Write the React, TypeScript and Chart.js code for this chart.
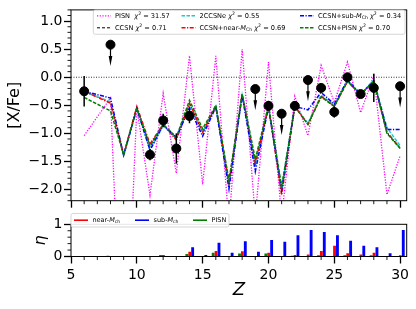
import React, { useEffect, useRef } from 'react';
import { Chart, registerables } from 'chart.js';
Chart.register(...registerables);

// ---------- data ----------
const zModel = [6, 8, 9, 10, 11, 12, 13, 14, 15, 16, 17, 18, 19, 20, 21, 22, 23, 24, 25, 26, 27, 28, 29, 30];
const pisnModel = [-1.04, -0.37, -6.0, -0.55, -2.10, -0.29, -1.71, 0.38, -1.91, 0.38, -2.6, 0.50, -2.5, 0.27, -2.5, -0.34, -1.04, 0.21, -0.45, 0.27, -0.63, 0.03, -2.09, -1.40];
const ccsnModel = [-0.25, -0.45, -1.38, -0.54, -1.24, -0.85, -1.10, -0.47, -0.98, -0.52, -1.88, -0.31, -1.53, -0.52, -2.05, -0.52, -0.84, -0.34, -0.52, -0.07, -0.31, -0.06, -0.99, -1.26];
const twoCcsneModel = [-0.25, -0.44, -1.40, -0.55, -1.30, -0.86, -1.08, -0.50, -0.98, -0.52, -1.92, -0.32, -1.58, -0.52, -2.03, -0.52, -0.82, -0.32, -0.50, -0.06, -0.30, -0.05, -0.90, -1.22];
const nearMchModel = [-0.25, -0.46, -1.38, -0.52, -1.19, -0.84, -1.12, -0.46, -0.98, -0.52, -1.88, -0.31, -1.54, -0.52, -2.10, -0.52, -0.84, -0.34, -0.52, -0.08, -0.31, -0.06, -0.98, -1.26];
const subMchModel = [-0.25, -0.37, -1.39, -0.56, -1.30, -0.85, -1.07, -0.55, -1.05, -0.53, -1.99, -0.32, -1.68, -0.53, -2.00, -0.52, -0.58, -0.27, -0.48, -0.05, -0.30, -0.08, -0.93, -0.93];
const ccsnPisnModel = [-0.36, -0.60, -1.38, -0.55, -1.22, -0.84, -1.07, -0.41, -0.92, -0.50, -1.84, -0.30, -1.46, -0.50, -1.95, -0.52, -0.84, -0.35, -0.52, -0.07, -0.31, -0.07, -1.00, -1.27];

const obsZ = [6, 8, 11, 12, 13, 14, 19, 20, 21, 22, 23, 24, 25, 26, 27, 28, 30];
const obsVal = [-0.25, 0.58, -1.38, -0.77, -1.27, -0.69, -0.21, -0.51, -0.65, -0.51, -0.05, -0.19, -0.62, 0.0, -0.30, -0.19, -0.16];
const obsErr = [0.27, 0, 0.10, 0.12, 0.27, 0.13, 0, 0.09, 0, 0.08, 0, 0.08, 0.10, 0.07, 0.06, 0.25, 0];
const obsUpper = [false, true, false, false, false, false, true, false, true, false, true, false, false, false, false, false, true];
const arrowLen = 0.38;

const etaNearZ = [12, 14, 16, 18, 20, 22, 23, 24, 25, 26, 27, 28, 30];
const etaNear = [0.04, 0.14, 0.16, 0.15, 0.11, 0.04, 0.05, 0.16, 0.32, 0.09, 0.05, 0.11, 0.03];
const etaSubZ = [14, 15, 16, 17, 18, 19, 20, 21, 22, 23, 24, 25, 26, 27, 28, 29, 30];
const etaSub = [0.28, 0.04, 0.42, 0.11, 0.46, 0.14, 0.50, 0.45, 0.65, 0.81, 0.75, 0.65, 0.48, 0.32, 0.28, 0.09, 0.81];
const etaPisnZ = [8, 12, 14, 16, 18, 20, 22, 24, 26, 28];
const etaPisn = [0.01, 0.04, 0.07, 0.11, 0.08, 0.08, 0.01, 0.03, 0.03, 0.03];

const xTicks = [5, 10, 15, 20, 25, 30];
const yTicksMain = [-2, -1.5, -1, -0.5, 0, 0.5, 1];
const yTicksEta = [0, 1];

const FONT = '"DejaVu Sans"';

type Part = { t: string; it?: boolean; s?: number; dy?: number };
const chi = (v: string): Part[] => [{ t: ' ' }, { t: 'χ', it: true }, { t: '2', s: 0.7, dy: -2.5 }, { t: ' = ' + v }];
const mch = (sub: string): Part[] => [{ t: 'M', it: true }, { t: sub, s: 0.7, dy: 1.8 }];

const mainLegend: { parts: Part[]; color: string; dash: number[]; width: number; col: number; row: number }[] = [
  { parts: [{ t: 'PISN ' }, ...chi('31.57')], color: '#ff00ff', dash: [1.2, 1.5], width: 1.3, col: 0, row: 0 },
  { parts: [{ t: 'CCSN' }, ...chi('0.71')], color: '#000000', dash: [3, 2], width: 1, col: 0, row: 1 },
  { parts: [{ t: '2CCSNe' }, ...chi('0.55')], color: '#20c8d0', dash: [3.5, 1.5], width: 1.5, col: 1, row: 0 },
  { parts: [{ t: 'CCSN+near-' }, ...mch('Ch'), ...chi('0.69')], color: '#ff0000', dash: [4, 1.5, 1.2, 1.5], width: 1.5, col: 1, row: 1 },
  { parts: [{ t: 'CCSN+sub-' }, ...mch('Ch'), ...chi('0.34')], color: '#0000ff', dash: [4, 1.5, 1.2, 1.5], width: 1.5, col: 2, row: 0 },
  { parts: [{ t: 'CCSN+PISN' }, ...chi('0.70')], color: '#008000', dash: [3.5, 1.5], width: 1.5, col: 2, row: 1 },
];
const etaLegend: { parts: Part[]; color: string }[] = [
  { parts: [{ t: 'near-' }, ...mch('ch')], color: '#ff0000' },
  { parts: [{ t: 'sub-' }, ...mch('ch')], color: '#0000ff' },
  { parts: [{ t: 'PISN' }], color: '#008000' },
];

function drawParts(ctx: CanvasRenderingContext2D, x: number, y: number, parts: Part[], base: number) {
  let cx = x;
  for (const p of parts) {
    const size = base * (p.s ?? 1);
    ctx.font = `${p.it ? 'italic ' : ''}${size}px ${FONT}`;
    ctx.fillText(p.t, cx, y + (p.dy ?? 0));
    cx += ctx.measureText(p.t).width;
  }
}

const fmt = (v: number) => (v < 0 ? '\u2212' : '') + Math.abs(v).toFixed(1);

function range(a: number, b: number, step: number) {
  const out: number[] = [];
  for (let v = a; v <= b + 1e-9; v += step) out.push(Math.round(v * 1000) / 1000);
  return out;
}

const framePlugin = {
  id: 'frame',
  afterDraw(chart: any, _args: any, opts: any) {
    const { ctx, chartArea: a, scales } = chart;
    ctx.save();
    ctx.strokeStyle = '#000';
    ctx.lineWidth = 1;
    ctx.strokeRect(a.left, a.top, a.right - a.left, a.bottom - a.top);
    ctx.lineWidth = 0.9;
    ctx.beginPath();
    for (const v of opts.minorX || []) {
      const px = scales.x.getPixelForValue(v);
      ctx.moveTo(px, a.bottom);
      ctx.lineTo(px, a.bottom + 3.5);
    }
    for (const v of opts.minorY || []) {
      const py = scales.y.getPixelForValue(v);
      ctx.moveTo(a.left, py);
      ctx.lineTo(a.left - 3.5, py);
    }
    ctx.stroke();
    ctx.restore();
  },
};

const errPlugin = {
  id: 'errbars',
  beforeDatasetDraw(chart: any, args: any) {
    if (args.index !== 0) return;
    const { ctx, scales } = chart;
    const sx = scales.x, sy = scales.y;
    ctx.save();
    ctx.strokeStyle = '#000';
    ctx.fillStyle = '#000';
    obsZ.forEach((z, i) => {
      const px = sx.getPixelForValue(z);
      if (obsUpper[i]) {
        const y0 = sy.getPixelForValue(obsVal[i]);
        const y1 = sy.getPixelForValue(obsVal[i] - arrowLen);
        ctx.lineWidth = 1.2;
        ctx.beginPath();
        ctx.moveTo(px, y0);
        ctx.lineTo(px, y1 - 6);
        ctx.stroke();
        ctx.beginPath();
        ctx.moveTo(px - 1.8, y1 - 10);
        ctx.lineTo(px + 1.8, y1 - 10);
        ctx.lineTo(px, y1);
        ctx.closePath();
        ctx.fill();
      } else if (obsErr[i] > 0) {
        ctx.lineWidth = 1.5;
        ctx.beginPath();
        ctx.moveTo(px, sy.getPixelForValue(obsVal[i] + obsErr[i]));
        ctx.lineTo(px, sy.getPixelForValue(obsVal[i] - obsErr[i]));
        ctx.stroke();
      }
    });
    ctx.restore();
  },
};

const mainLegendPlugin = {
  id: 'mainLegend',
  afterDraw(chart: any) {
    const ctx = chart.ctx as CanvasRenderingContext2D;
    const box = { x: 93.3, y: 10, w: 311.7, h: 24.3 };
    const colSample = [97, 181.5, 300];
    const rowY = [15.8, 27.8];
    ctx.save();
    ctx.fillStyle = 'rgba(255,255,255,0.85)';
    ctx.strokeStyle = '#cccccc';
    ctx.lineWidth = 0.8;
    ctx.beginPath();
    (ctx as any).roundRect(box.x, box.y, box.w, box.h, 2);
    ctx.fill();
    ctx.stroke();
    for (const it of mainLegend) {
      const x0 = colSample[it.col];
      const y = rowY[it.row];
      ctx.strokeStyle = it.color;
      ctx.lineWidth = it.width;
      ctx.setLineDash(it.dash);
      ctx.beginPath();
      ctx.moveTo(x0, y);
      ctx.lineTo(x0 + 14, y);
      ctx.stroke();
      ctx.setLineDash([]);
      ctx.fillStyle = '#000';
      ctx.textBaseline = 'middle';
      drawParts(ctx, x0 + 18, y, it.parts, 6.6);
    }
    ctx.restore();
  },
};

const etaLegendPlugin = {
  id: 'etaLegend',
  afterDraw(chart: any) {
    const ctx = chart.ctx as CanvasRenderingContext2D;
    const box = { x: 71, y: 213.5, w: 158, h: 13.5 };
    const samples = [74, 135, 193];
    const y = 220.2;
    ctx.save();
    ctx.fillStyle = 'rgba(255,255,255,0.9)';
    ctx.strokeStyle = '#cccccc';
    ctx.lineWidth = 0.8;
    ctx.beginPath();
    (ctx as any).roundRect(box.x, box.y, box.w, box.h, 2);
    ctx.fill();
    ctx.stroke();
    etaLegend.forEach((it, i) => {
      const x0 = samples[i];
      ctx.strokeStyle = it.color;
      ctx.lineWidth = 1.6;
      ctx.beginPath();
      ctx.moveTo(x0, y);
      ctx.lineTo(x0 + 14, y);
      ctx.stroke();
      ctx.fillStyle = '#000';
      ctx.textBaseline = 'middle';
      drawParts(ctx, x0 + 18.5, y, it.parts, 6.5);
    });
    ctx.restore();
  },
};

const toXY = (xs: number[], ys: number[], dx = 0) => xs.map((x, i) => ({ x: x + dx, y: ys[i] }));

export default function App() {
  const mainRef = useRef<HTMLCanvasElement>(null);
  const etaRef = useRef<HTMLCanvasElement>(null);

  useEffect(() => {
    const tickGrid = { drawOnChartArea: false, tickLength: 7, tickWidth: 1.3, tickColor: '#000' };
    const lineDs = (label: string, ys: number[], color: string, dash: number[], width: number) => ({
      type: 'line' as const,
      label,
      data: toXY(zModel, ys),
      borderColor: color,
      borderDash: dash,
      borderWidth: width,
      pointRadius: 0,
      fill: false,
      tension: 0,
    });
    const main = new Chart(mainRef.current!, {
      type: 'line',
      data: {
        datasets: [
          {
            type: 'scatter' as any,
            label: 'obs',
            data: toXY(obsZ, obsVal),
            backgroundColor: '#000',
            borderColor: '#000',
            pointRadius: 4.5,
            showLine: false,
          } as any,
          lineDs('CCSN+PISN', ccsnPisnModel, '#008000', [3.5, 1.5], 1.5),
          lineDs('CCSN+sub-MCh', subMchModel, '#0000ff', [4, 1.5, 1.2, 1.5], 1.5),
          lineDs('CCSN+near-MCh', nearMchModel, '#ff0000', [4, 1.5, 1.2, 1.5], 1.5),
          lineDs('2CCSNe', twoCcsneModel, '#20c8d0', [3.5, 1.5], 1.5),
          lineDs('CCSN', ccsnModel, '#000000', [3, 2], 1),
          lineDs('PISN', pisnModel, '#ff00ff', [1.2, 1.5], 1.3),
          {
            type: 'line' as const,
            label: 'zero',
            data: [{ x: 5, y: 0 }, { x: 30.5, y: 0 }],
            borderColor: '#000',
            borderDash: [1, 1.5],
            borderWidth: 0.8,
            pointRadius: 0,
          },
        ],
      },
      options: {
        animation: false,
        responsive: false,
        layout: { padding: { left: 0, top: 6, right: 9.3, bottom: 0 } },
        plugins: {
          legend: { display: false },
          tooltip: { enabled: false },
          frame: { minorX: range(5, 30, 1).filter(v => v % 5 !== 0), minorY: range(-2.2, 1.2, 0.1).filter(v => Math.abs(v * 2 - Math.round(v * 2)) > 1e-6) },
        } as any,
        scales: {
          x: {
            type: 'linear',
            min: 5,
            max: 30.5,
            afterBuildTicks: (s: any) => { s.ticks = xTicks.map(v => ({ value: v })); },
            ticks: { display: false, autoSkip: false },
            grid: tickGrid,
            border: { display: false },
            afterFit: (s: any) => { s.height = 309 - 200.7; },
          },
          y: {
            type: 'linear',
            min: -2.2,
            max: 1.2,
            afterBuildTicks: (s: any) => { s.ticks = yTicksMain.map(v => ({ value: v })); },
            ticks: { autoSkip: false, color: '#000', padding: 1.5, font: { family: FONT, size: 14 }, callback: (v: any) => fmt(Number(v)) },
            grid: tickGrid,
            border: { display: false },
            title: { display: true, text: '[X/Fe]', color: '#000', font: { family: FONT, size: 16 }, padding: { top: 5, bottom: 0 } },
            afterFit: (s: any) => { s.width = 71; },
          },
        },
      },
      plugins: [errPlugin, framePlugin, mainLegendPlugin],
    });

    const barDs = (label: string, xs: number[], ys: number[], dx: number, color: string) => ({
      type: 'bar' as const,
      label,
      data: toXY(xs, ys, dx),
      backgroundColor: color,
      borderWidth: 0,
      barThickness: 2.2,
      grouped: false,
    });
    const eta = new Chart(etaRef.current!, {
      type: 'bar',
      data: {
        datasets: [
          barDs('near-Mch', etaNearZ, etaNear, 0.02, '#ff0000'),
          barDs('sub-Mch', etaSubZ, etaSub, 0.24, '#0000ff'),
          barDs('PISN', etaPisnZ, etaPisn, -0.2, '#008000'),
        ] as any,
      },
      options: {
        animation: false,
        responsive: false,
        layout: { padding: { left: 0, top: 224.3, right: 9.3, bottom: 0 } },
        plugins: {
          legend: { display: false },
          tooltip: { enabled: false },
          frame: { minorX: range(5, 30, 1).filter(v => v % 5 !== 0), minorY: [0.2, 0.4, 0.6, 0.8] },
        } as any,
        scales: {
          x: {
            type: 'linear',
            min: 5,
            max: 30.5,
            offset: false,
            afterBuildTicks: (s: any) => { s.ticks = xTicks.map(v => ({ value: v })); },
            ticks: { autoSkip: false, maxRotation: 0, color: '#000', padding: 3, font: { family: FONT, size: 14 }, callback: (v: any) => String(v) },
            grid: { ...tickGrid, offset: false },
            border: { display: false },
            title: { display: true, text: 'Z', color: '#000', font: { family: FONT, size: 18, style: 'italic' }, padding: { top: 0, bottom: 8 } },
            afterFit: (s: any) => { s.height = 309 - 256.5; },
          },
          y: {
            type: 'linear',
            min: 0,
            max: 1,
            afterBuildTicks: (s: any) => { s.ticks = yTicksEta.map(v => ({ value: v })); },
            ticks: { autoSkip: false, color: '#000', padding: 1.5, font: { family: FONT, size: 14 }, callback: (v: any) => String(v) },
            grid: tickGrid,
            border: { display: false },
            title: { display: true, text: 'η', color: '#000', font: { family: FONT, size: 16, style: 'italic' }, padding: { top: 31, bottom: 0 } },
            afterFit: (s: any) => { s.width = 71; },
          },
        },
      },
      plugins: [framePlugin, etaLegendPlugin],
    });

    return () => { main.destroy(); eta.destroy(); };
  }, []);

  const cs: React.CSSProperties = { position: 'absolute', left: 0, top: 0, width: 416, height: 309 };
  return (
    <div style={{ position: 'fixed', left: 0, top: 0, width: 416, height: 309, background: '#fff' }}>
      <canvas ref={mainRef} width={416} height={309} style={cs} />
      <canvas ref={etaRef} width={416} height={309} style={cs} />
    </div>
  );
}
